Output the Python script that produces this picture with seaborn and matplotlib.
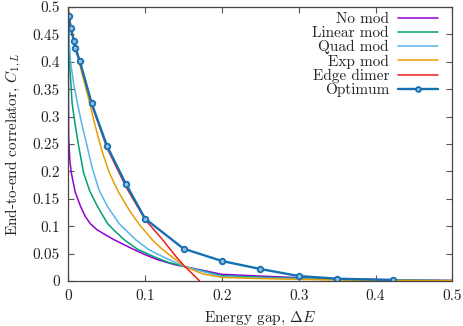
import numpy as np
import pandas as pd
import seaborn as sns
import matplotlib
matplotlib.use("Agg")
import matplotlib.pyplot as plt
from matplotlib.ticker import MultipleLocator, FuncFormatter

# curves (x = energy gap, y = end-to-end correlator)
nomod_x = [0.0, 0.0002, 0.0005, 0.002, 0.004, 0.009, 0.016, 0.022, 0.029, 0.037, 0.045, 0.060, 0.073, 0.086,
           0.1, 0.116, 0.138, 0.152, 0.2, 0.25, 0.3, 0.35, 0.4, 0.5]
nomod_y = [0.5, 0.35, 0.26, 0.22, 0.197, 0.162, 0.136, 0.118, 0.104, 0.094, 0.087, 0.075, 0.066, 0.057,
           0.048, 0.039, 0.030, 0.026, 0.0122, 0.009, 0.006, 0.0042, 0.0028, 0.001]

linear_x = [0.0, 0.0008, 0.002, 0.005, 0.009, 0.013, 0.020, 0.028, 0.038, 0.051, 0.060, 0.073, 0.090, 0.112,
            0.130, 0.152, 0.2, 0.25, 0.3, 0.35, 0.4, 0.5]
linear_y = [0.5, 0.45, 0.39, 0.324, 0.285, 0.25, 0.197, 0.164, 0.136, 0.105, 0.092, 0.075, 0.058, 0.044,
            0.034, 0.026, 0.0097, 0.007, 0.0048, 0.0032, 0.002, 0.0008]

quad_x = [0.0, 0.001, 0.003, 0.007, 0.012, 0.017, 0.023, 0.031, 0.040, 0.051, 0.066, 0.088, 0.105, 0.125, 0.152,
          0.2, 0.25, 0.3, 0.35, 0.4, 0.5]
quad_y = [0.5, 0.44, 0.400, 0.36, 0.324, 0.29, 0.255, 0.207, 0.166, 0.136, 0.105, 0.075, 0.057, 0.043, 0.026,
          0.0079, 0.0055, 0.0038, 0.0025, 0.0015, 0.0006]

exp_x = [0.0, 0.002, 0.008, 0.014, 0.021, 0.028, 0.034, 0.040, 0.046, 0.053, 0.065, 0.079, 0.092, 0.110, 0.123, 0.136,
         0.152, 0.175, 0.2, 0.25, 0.3, 0.35, 0.4, 0.5]
exp_y = [0.5, 0.476, 0.437, 0.400, 0.362, 0.324, 0.289, 0.257, 0.228, 0.199, 0.163, 0.130, 0.104, 0.074, 0.057, 0.043,
         0.026, 0.013, 0.0065, 0.0045, 0.003, 0.002, 0.0012, 0.0005]

edge_x = [0.0, 0.003, 0.008, 0.015, 0.03, 0.05, 0.075, 0.1, 0.12, 0.14, 0.15, 0.171]
edge_y = [0.49, 0.461, 0.437, 0.401, 0.324, 0.244, 0.172, 0.112, 0.080, 0.045, 0.029, 0.0]

opt_x = [0.001, 0.003, 0.0074, 0.009, 0.015, 0.0305, 0.0505, 0.075, 0.1, 0.15, 0.2, 0.25, 0.3, 0.35, 0.423]
opt_y = [0.4836, 0.461, 0.438, 0.425, 0.401, 0.324, 0.246, 0.177, 0.1137, 0.059, 0.0365, 0.0219, 0.0091,
         0.0042, 0.0018]

sns.set_theme(style="ticks")
plt.rcParams['font.family'] = ['cmr10', 'DejaVu Serif']
plt.rcParams['mathtext.fontset'] = 'cm'
plt.rcParams['axes.formatter.use_mathtext'] = True
fs = 11

fig = plt.figure(figsize=(4.63, 3.26), dpi=100)
ax = fig.add_axes([0.1475, 0.138, 0.8297, 0.8405])

curves = [
    (nomod_x, nomod_y, "No mod", "#9400d3"),
    (linear_x, linear_y, "Linear mod", "#009e73"),
    (quad_x, quad_y, "Quad mod", "#56b4e9"),
    (exp_x, exp_y, "Exp mod", "#e69f00"),
    (edge_x, edge_y, "Edge dimer", "#f01e1e"),
]
for xs, ys, name, col in curves:
    sns.lineplot(x=xs, y=ys, ax=ax, color=col, lw=1.1, label=name, sort=False)

sns.lineplot(x=opt_x, y=opt_y, ax=ax, color="#1570b0", lw=1.7, label="Optimum", sort=False,
             marker="o", markersize=4, markerfacecolor="#8dbde3", markeredgecolor="#1570b0",
             markeredgewidth=1.3)

ax.set_xlim(0, 0.5)
ax.set_ylim(0, 0.5)
ax.xaxis.set_major_locator(MultipleLocator(0.1))
ax.yaxis.set_major_locator(MultipleLocator(0.05))
fmt = FuncFormatter(lambda v, p: "%g" % round(v, 4))
ax.xaxis.set_major_formatter(fmt)
ax.yaxis.set_major_formatter(fmt)
ax.tick_params(direction="in", top=True, right=True, length=4, width=0.8,
               color="#555555", labelsize=fs, labelcolor="#222222", pad=6)
for s in ax.spines.values():
    s.set_color("#444444")
    s.set_linewidth(0.9)

ax.set_xlabel(r"Energy gap, $\Delta E$", fontsize=fs, color="#222222", labelpad=5)
ax.set_ylabel(r"End-to-end correlator, $C_{1,L}$", fontsize=fs, color="#222222", labelpad=6)

leg = ax.legend(loc="upper right", frameon=False, markerfirst=False, fontsize=fs,
                handlelength=2.6, handletextpad=0.6, labelspacing=0.0,
                borderaxespad=0.3, bbox_to_anchor=(0.99, 1.018))
for line in leg.get_lines():
    line.set_markersize(3.5)

fig.savefig("out.png", dpi=100)
